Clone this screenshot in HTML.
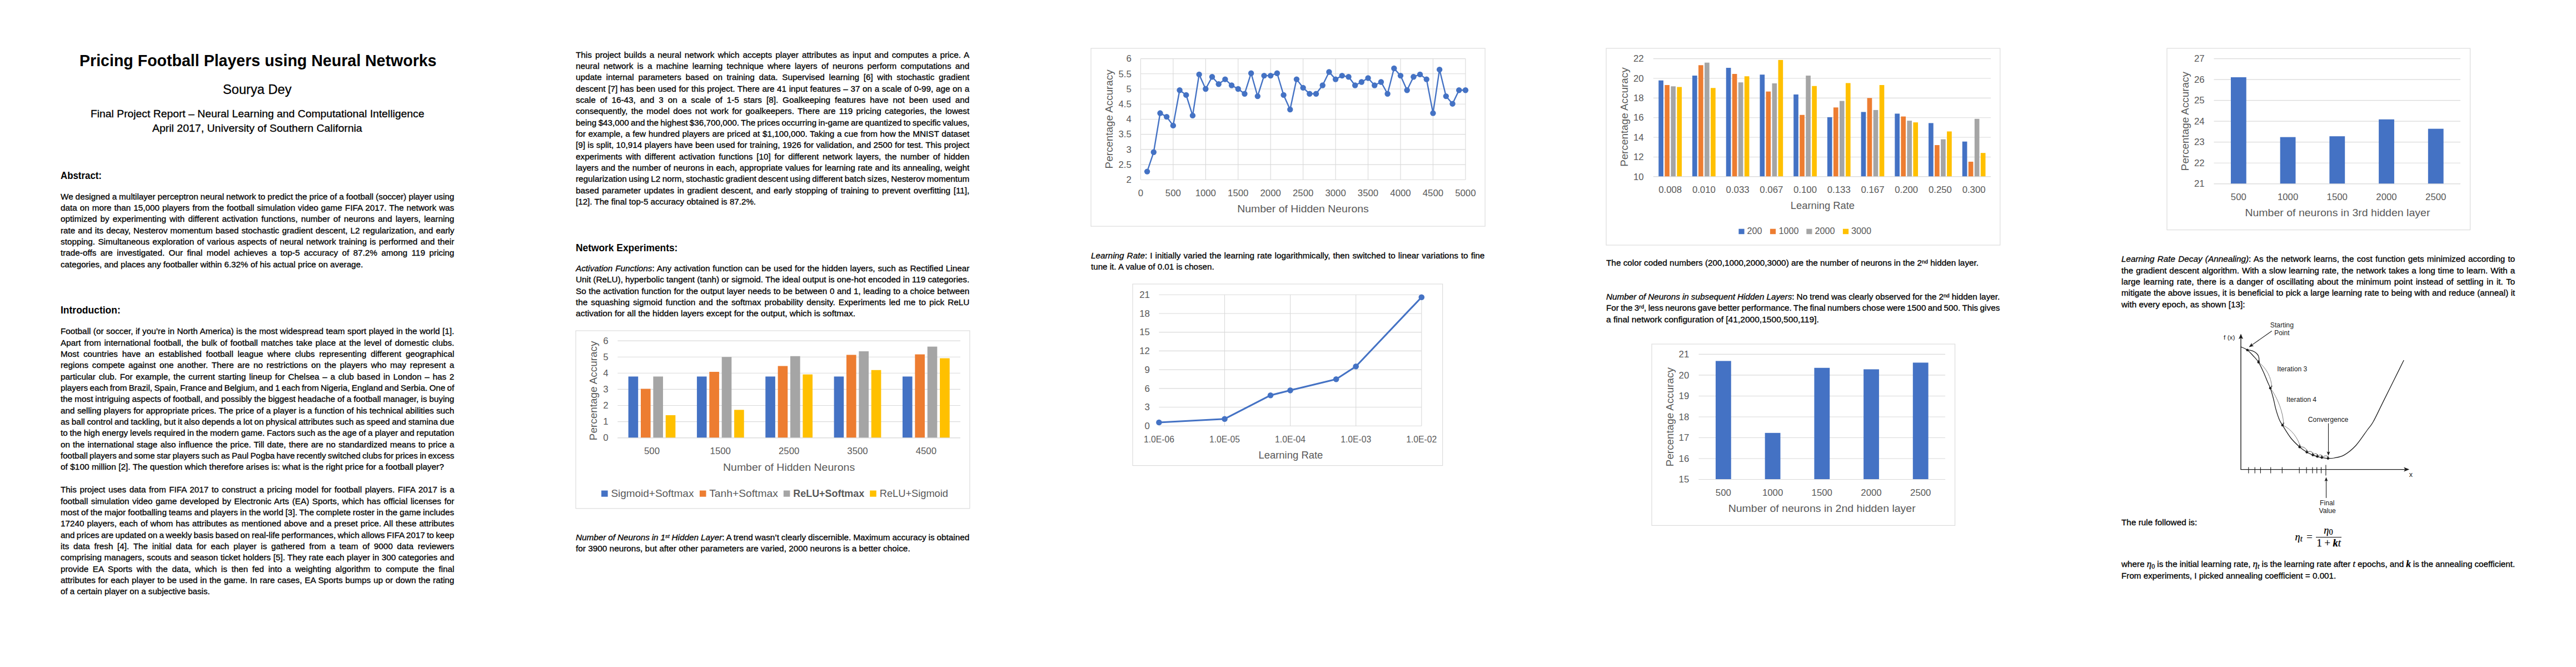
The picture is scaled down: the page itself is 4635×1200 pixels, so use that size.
<!DOCTYPE html>
<html lang="en"><head><meta charset="utf-8"><title>Pricing Football Players using Neural Networks</title>
<style>
html,body{margin:0;padding:0;background:#fff}
body{width:4635px;height:1200px;position:relative;overflow:hidden;font-family:"Liberation Sans",sans-serif;color:#000}
.l{position:absolute;white-space:nowrap;line-height:20px;transform-origin:0 0;font-kerning:normal;-webkit-text-stroke:0.3px #000}
.l b{font-weight:bold}
.l sup,.l sub{line-height:0;font-size:64%;vertical-align:baseline;position:relative}
.l sup{top:-0.46em}
.l sub{top:0.22em}
.m{font-family:"Liberation Serif","DejaVu Serif",serif;font-style:italic;line-height:0;font-size:112%}
sub.m{font-size:80%;font-style:normal;top:0.25em}
sub.m.mi{font-style:italic}
.mi{font-style:italic}
.mbi{font-style:italic;font-weight:bold}
.fx{position:absolute;white-space:nowrap;line-height:20px;-webkit-text-stroke:0.25px #000;font-family:"Liberation Serif","DejaVu Serif",serif;font-style:italic;font-size:18.5px}
</style></head>
<body>
<div class="l" id="L0" style="left:142.5px;top:99px;font-size:30px;font-weight:bold;-webkit-text-stroke:0;transform:scaleX(0.9516)">Pricing Football Players using Neural Networks</div>
<div class="l" id="L1" style="left:401px;top:151px;font-size:24.6px;transform:scaleX(0.9619)">Sourya Dey</div>
<div class="l" id="L2" style="left:163.2px;top:195px;font-size:19px;transform:scaleX(1.0169)">Final Project Report – Neural Learning and Computational Intelligence</div>
<div class="l" id="L3" style="left:274.4px;top:221px;font-size:19px;transform:scaleX(1.0247)">April 2017, University of Southern California</div>
<div class="l" id="L4" style="left:109.4px;top:306px;font-size:17.7px;font-weight:bold;-webkit-text-stroke:0;transform:scaleX(0.9529)">Abstract:</div>
<div class="l" id="L5" style="left:109.3px;top:344px;font-size:15px;transform:scaleX(1.0200);word-spacing:-0.3px">We designed a multilayer perceptron neural network to predict the price of a football (soccer) player using</div>
<div class="l" id="L6" style="left:109.3px;top:364px;font-size:15px;transform:scaleX(1.0200);word-spacing:0.68px">data on more than 15,000 players from the football simulation video game FIFA 2017. The network was</div>
<div class="l" id="L7" style="left:109.3px;top:384px;font-size:15px;transform:scaleX(1.0200);word-spacing:1.82px">optimized by experimenting with different activation functions, number of neurons and layers, learning</div>
<div class="l" id="L8" style="left:109.3px;top:405px;font-size:15px;transform:scaleX(1.0200);word-spacing:0.72px">rate and its decay, Nesterov momentum based stochastic gradient descent, L2 regularization, and early</div>
<div class="l" id="L9" style="left:109.3px;top:425px;font-size:15px;transform:scaleX(1.0200);word-spacing:1.01px">stopping. Simultaneous exploration of various aspects of neural network training is performed and their</div>
<div class="l" id="L10" style="left:109.3px;top:445px;font-size:15px;transform:scaleX(1.0200);word-spacing:3.07px">trade-offs are investigated. Our final model achieves a top-5 accuracy of 87.2% among 119 pricing</div>
<div class="l" id="L11" style="left:109.3px;top:466px;font-size:15px;transform:scaleX(1.0118)">categories, and places any footballer within 6.32% of his actual price on average.</div>
<div class="l" id="L12" style="left:109.4px;top:548px;font-size:17.7px;font-weight:bold;-webkit-text-stroke:0;transform:scaleX(0.9886)">Introduction:</div>
<div class="l" id="L13" style="left:109.3px;top:586px;font-size:15px;transform:scaleX(1.0200);word-spacing:0.18px">Football (or soccer, if you’re in North America) is the most widespread team sport played in the world [1].</div>
<div class="l" id="L14" style="left:109.3px;top:607px;font-size:15px;transform:scaleX(1.0200);word-spacing:1.35px">Apart from international football, the bulk of football matches take place at the level of domestic clubs.</div>
<div class="l" id="L15" style="left:109.3px;top:627px;font-size:15px;transform:scaleX(1.0200);word-spacing:3.42px">Most countries have an established football league where clubs representing different geographical</div>
<div class="l" id="L16" style="left:109.3px;top:647px;font-size:15px;transform:scaleX(1.0200);word-spacing:2.29px">regions compete against one another. There are no restrictions on the players who may represent a</div>
<div class="l" id="L17" style="left:109.3px;top:668px;font-size:15px;transform:scaleX(1.0200);word-spacing:1.43px">particular club. For example, the current starting lineup for Chelsea – a club based in London – has 2</div>
<div class="l" id="L18" style="left:109.3px;top:688px;font-size:15px;transform:scaleX(1.0166);word-spacing:-0.9px">players each from Brazil, Spain, France and Belgium, and 1 each from Nigeria, England and Serbia. One of</div>
<div class="l" id="L19" style="left:109.3px;top:708px;font-size:15px;transform:scaleX(1.0200);word-spacing:-0.27px">the most intriguing aspects of football, and possibly the biggest headache of a football manager, is buying</div>
<div class="l" id="L20" style="left:109.3px;top:729px;font-size:15px;transform:scaleX(1.0200);word-spacing:0.1px">and selling players for appropriate prices. The price of a player is a function of his technical abilities such</div>
<div class="l" id="L21" style="left:109.3px;top:749px;font-size:15px;transform:scaleX(1.0200);word-spacing:-0.54px">as ball control and tackling, but it also depends a lot on physical attributes such as speed and stamina due</div>
<div class="l" id="L22" style="left:109.3px;top:769px;font-size:15px;transform:scaleX(1.0200);word-spacing:-0.4px">to the high energy levels required in the modern game. Factors such as the age of a player and reputation</div>
<div class="l" id="L23" style="left:109.3px;top:790px;font-size:15px;transform:scaleX(1.0200);word-spacing:0.82px">on the international stage also influence the price. Till date, there are no standardized means to price a</div>
<div class="l" id="L24" style="left:109.3px;top:810px;font-size:15px;transform:scaleX(1.0081);word-spacing:-0.9px">football players and some star players such as Paul Pogba have recently switched clubs for prices in excess</div>
<div class="l" id="L25" style="left:109.3px;top:830px;font-size:15px;transform:scaleX(1.0321)">of $100 million [2]. The question which therefore arises is: what is the right price for a football player?</div>
<div class="l" id="L26" style="left:109.3px;top:871px;font-size:15px;transform:scaleX(1.0200);word-spacing:1.25px">This project uses data from FIFA 2017 to construct a pricing model for football players. FIFA 2017 is a</div>
<div class="l" id="L27" style="left:109.3px;top:892px;font-size:15px;transform:scaleX(1.0200);word-spacing:1.14px">football simulation video game developed by Electronic Arts (EA) Sports, which has official licenses for</div>
<div class="l" id="L28" style="left:109.3px;top:912px;font-size:15px;transform:scaleX(1.0200);word-spacing:-0.32px">most of the major footballing teams and players in the world [3]. The complete roster in the game includes</div>
<div class="l" id="L29" style="left:109.3px;top:932px;font-size:15px;transform:scaleX(1.0200);word-spacing:0.61px">17240 players, each of whom has attributes as mentioned above and a preset price. All these attributes</div>
<div class="l" id="L30" style="left:109.3px;top:953px;font-size:15px;transform:scaleX(1.0200);word-spacing:-0.89px">and prices are updated on a weekly basis based on real-life performances, which allows FIFA 2017 to keep</div>
<div class="l" id="L31" style="left:109.3px;top:973px;font-size:15px;transform:scaleX(1.0200);word-spacing:3.34px">its data fresh [4]. The initial data for each player is gathered from a team of 9000 data reviewers</div>
<div class="l" id="L32" style="left:109.3px;top:993px;font-size:15px;transform:scaleX(1.0200);word-spacing:0.23px">comprising managers, scouts and season ticket holders [5]. They rate each player in 300 categories and</div>
<div class="l" id="L33" style="left:109.3px;top:1014px;font-size:15px;transform:scaleX(1.0200);word-spacing:3.28px">provide EA Sports with the data, which is then fed into a weighting algorithm to compute the final</div>
<div class="l" id="L34" style="left:109.3px;top:1034px;font-size:15px;transform:scaleX(1.0200);word-spacing:0.41px">attributes for each player to be used in the game. In rare cases, EA Sports bumps up or down the rating</div>
<div class="l" id="L35" style="left:109.3px;top:1054px;font-size:15px;transform:scaleX(1.0070)">of a certain player on a subjective basis.</div>
<div class="l" id="L36" style="left:1036.3px;top:89px;font-size:15px;transform:scaleX(1.0200);word-spacing:1.71px">This project builds a neural network which accepts player attributes as input and computes a price. A</div>
<div class="l" id="L37" style="left:1036.3px;top:109px;font-size:15px;transform:scaleX(1.0200);word-spacing:2.94px">neural network is a machine learning technique where layers of neurons perform computations and</div>
<div class="l" id="L38" style="left:1036.3px;top:129px;font-size:15px;transform:scaleX(1.0200);word-spacing:3.39px">update internal parameters based on training data. Supervised learning [6] with stochastic gradient</div>
<div class="l" id="L39" style="left:1036.3px;top:150px;font-size:15px;transform:scaleX(1.0200);word-spacing:0.34px">descent [7] has been used for this project. There are 41 input features – 37 on a scale of 0-99, age on a</div>
<div class="l" id="L40" style="left:1036.3px;top:170px;font-size:15px;transform:scaleX(1.0200);word-spacing:3.65px">scale of 16-43, and 3 on a scale of 1-5 stars [8]. Goalkeeping features have not been used and</div>
<div class="l" id="L41" style="left:1036.3px;top:190px;font-size:15px;transform:scaleX(1.0200);word-spacing:2.07px">consequently, the model does not work for goalkeepers. There are 119 pricing categories, the lowest</div>
<div class="l" id="L42" style="left:1036.3px;top:211px;font-size:15px;transform:scaleX(1.0166);word-spacing:-0.9px">being $43,000 and the highest $36,700,000. The prices occurring in-game are quantized to specific values,</div>
<div class="l" id="L43" style="left:1036.3px;top:231px;font-size:15px;transform:scaleX(1.0200);word-spacing:0.37px">for example, a few hundred players are priced at $1,100,000. Taking a cue from how the MNIST dataset</div>
<div class="l" id="L44" style="left:1036.3px;top:251px;font-size:15px;transform:scaleX(1.0200);word-spacing:0.1px">[9] is split, 10,914 players have been used for training, 1926 for validation, and 2500 for test. This project</div>
<div class="l" id="L45" style="left:1036.3px;top:272px;font-size:15px;transform:scaleX(1.0200);word-spacing:2.47px">experiments with different activation functions [10] for different network layers, the number of hidden</div>
<div class="l" id="L46" style="left:1036.3px;top:292px;font-size:15px;transform:scaleX(1.0200);word-spacing:0.46px">layers and the number of neurons in each, appropriate values for learning rate and its annealing, weight</div>
<div class="l" id="L47" style="left:1036.3px;top:312px;font-size:15px;transform:scaleX(1.0200);word-spacing:-0.82px">regularization using L2 norm, stochastic gradient descent using different batch sizes, Nesterov momentum</div>
<div class="l" id="L48" style="left:1036.3px;top:333px;font-size:15px;transform:scaleX(1.0200);word-spacing:1.38px">based parameter updates in gradient descent, and early stopping of training to prevent overfitting [11],</div>
<div class="l" id="L49" style="left:1036.3px;top:353px;font-size:15px;transform:scaleX(1.0104)">[12]. The final top-5 accuracy obtained is 87.2%.</div>
<div class="l" id="L50" style="left:1036.4px;top:436px;font-size:17.7px;font-weight:bold;-webkit-text-stroke:0;transform:scaleX(0.9820)">Network Experiments:</div>
<div class="l" id="L51" style="left:1036.3px;top:473px;font-size:15px;transform:scaleX(1.0200);word-spacing:0.55px"><i>Activation Functions</i>: Any activation function can be used for the hidden layers, such as Rectified Linear</div>
<div class="l" id="L52" style="left:1036.3px;top:493px;font-size:15px;transform:scaleX(1.0200);word-spacing:-0.09px">Unit (ReLU), hyperbolic tangent (tanh) or sigmoid. The ideal output is one-hot encoded in 119 categories.</div>
<div class="l" id="L53" style="left:1036.3px;top:514px;font-size:15px;transform:scaleX(1.0200);word-spacing:0.29px">So the activation function for the output layer needs to be between 0 and 1, leading to a choice between</div>
<div class="l" id="L54" style="left:1036.3px;top:534px;font-size:15px;transform:scaleX(1.0200);word-spacing:1.68px">the squashing sigmoid function and the softmax probability density. Experiments led me to pick ReLU</div>
<div class="l" id="L55" style="left:1036.3px;top:554px;font-size:15px;transform:scaleX(1.0348)">activation for all the hidden layers except for the output, which is softmax.</div>
<div class="l" id="L56" style="left:1036.3px;top:957px;font-size:15px;transform:scaleX(1.0200);word-spacing:-0.34px"><i>Number of Neurons in 1<sup>st</sup> Hidden Layer</i>: A trend wasn’t clearly discernible. Maximum accuracy is obtained</div>
<div class="l" id="L57" style="left:1036.3px;top:977px;font-size:15px;transform:scaleX(1.0235)">for 3900 neurons, but after other parameters are varied, 2000 neurons is a better choice.</div>
<div class="l" id="L58" style="left:1963.3px;top:450px;font-size:15px;transform:scaleX(1.0200);word-spacing:0.79px"><i>Learning Rate</i>: I initially varied the learning rate logarithmically, then switched to linear variations to fine</div>
<div class="l" id="L59" style="left:1963.3px;top:470px;font-size:15px;transform:scaleX(1.0108)">tune it. A value of 0.01 is chosen.</div>
<div class="l" id="L60" style="left:2890.3px;top:463px;font-size:15px;transform:scaleX(1.0213)">The color coded numbers (200,1000,2000,3000) are the number of neurons in the 2<sup>nd</sup> hidden layer.</div>
<div class="l" id="L61" style="left:2890.3px;top:524px;font-size:15px;transform:scaleX(1.0200);word-spacing:-0.26px"><i>Number of Neurons in subsequent Hidden Layers</i>: No trend was clearly observed for the 2<sup>nd</sup> hidden layer.</div>
<div class="l" id="L62" style="left:2890.3px;top:544px;font-size:15px;transform:scaleX(1.0195);word-spacing:-0.9px">For the 3<sup>rd</sup>, less neurons gave better performance. The final numbers chose were 1500 and 500. This gives</div>
<div class="l" id="L63" style="left:2890.3px;top:565px;font-size:15px;transform:scaleX(1.0370)">a final network configuration of [41,2000,1500,500,119].</div>
<div class="l" id="L64" style="left:3817.3px;top:456px;font-size:15px;transform:scaleX(1.0200);word-spacing:0.94px"><i>Learning Rate Decay (Annealing)</i>: As the network learns, the cost function gets minimized according to</div>
<div class="l" id="L65" style="left:3817.3px;top:477px;font-size:15px;transform:scaleX(1.0200);word-spacing:0.64px">the gradient descent algorithm. With a slow learning rate, the network takes a long time to learn. With a</div>
<div class="l" id="L66" style="left:3817.3px;top:497px;font-size:15px;transform:scaleX(1.0200);word-spacing:1.4px">large learning rate, there is a danger of oscillating about the minimum point instead of settling in it. To</div>
<div class="l" id="L67" style="left:3817.3px;top:517px;font-size:15px;transform:scaleX(1.0200);word-spacing:0.17px">mitigate the above issues, it is beneficial to pick a large learning rate to being with and reduce (anneal) it</div>
<div class="l" id="L68" style="left:3817.3px;top:538px;font-size:15px;transform:scaleX(1.0229)">with every epoch, as shown [13]:</div>
<div class="l" id="L69" style="left:3817.3px;top:930px;font-size:15px;transform:scaleX(1.0217)">The rule followed is:</div>
<div class="l" id="L70" style="left:3817.3px;top:1005px;font-size:15px;transform:scaleX(1.0200);word-spacing:-0.24px">where <span class="m">η</span><sub class="m">0</sub> is the initial learning rate, <span class="m">η</span><sub class="m mi">t</sub> is the learning rate after <span class="m mi">t</span> epochs, and <span class="m mbi">k</span> is the annealing coefficient.</div>
<div class="l" id="L71" style="left:3817.3px;top:1026px;font-size:15px;transform:scaleX(1.0156)">From experiments, I picked annealing coefficient = 0.001.</div>
<div class="fx" style="left:4129.5px;top:956.2px">η<sub style="font-size:78%;line-height:0;position:relative;top:0.16em;vertical-align:baseline">t</sub></div>
<div class="fx" style="left:4150.2px;top:956.2px;font-style:normal">=</div>
<div class="fx" style="left:4181.3px;top:943.8px">η<sub style="font-size:78%;line-height:0;position:relative;top:0.16em;vertical-align:baseline;font-style:normal">0</sub></div>
<div style="position:absolute;left:4167.1px;top:966.3px;width:45.9px;height:1.1px;background:#000"></div>
<div class="fx" style="left:4168.5px;top:966.8px;font-style:normal">1 + <b><i>k</i></b><i>t</i></div>
<svg style="position:absolute;left:1034px;top:592.6px" width="712.9" height="323.8" viewBox="1034 592.6 712.9 323.8" font-family="Liberation Sans, sans-serif" fill="#595959">
<rect x="1036" y="594.6" width="708.9" height="319.8" fill="#fff" stroke="#D9D9D9" stroke-width="1.1"/>
<line x1="1111.3" y1="787.3" x2="1728" y2="787.3" stroke="#D9D9D9" stroke-width="1.1"/>
<text x="1094.6" y="793.1" font-size="16.8" text-anchor="end">0</text>
<line x1="1111.3" y1="758.2" x2="1728" y2="758.2" stroke="#D9D9D9" stroke-width="1.1"/>
<text x="1094.6" y="764" font-size="16.8" text-anchor="end">1</text>
<line x1="1111.3" y1="729.1" x2="1728" y2="729.1" stroke="#D9D9D9" stroke-width="1.1"/>
<text x="1094.6" y="734.9" font-size="16.8" text-anchor="end">2</text>
<line x1="1111.3" y1="700" x2="1728" y2="700" stroke="#D9D9D9" stroke-width="1.1"/>
<text x="1094.6" y="705.8" font-size="16.8" text-anchor="end">3</text>
<line x1="1111.3" y1="670.9" x2="1728" y2="670.9" stroke="#D9D9D9" stroke-width="1.1"/>
<text x="1094.6" y="676.7" font-size="16.8" text-anchor="end">4</text>
<line x1="1111.3" y1="641.8" x2="1728" y2="641.8" stroke="#D9D9D9" stroke-width="1.1"/>
<text x="1094.6" y="647.6" font-size="16.8" text-anchor="end">5</text>
<line x1="1111.3" y1="612.7" x2="1728" y2="612.7" stroke="#D9D9D9" stroke-width="1.1"/>
<text x="1094.6" y="618.5" font-size="16.8" text-anchor="end">6</text>
<rect x="1130.59" y="677.01" width="17.62" height="110.29" fill="#4472C4"/>
<rect x="1152.97" y="699.13" width="17.62" height="88.17" fill="#ED7D31"/>
<rect x="1175.35" y="677.01" width="17.62" height="110.29" fill="#A5A5A5"/>
<rect x="1197.73" y="746.56" width="17.62" height="40.74" fill="#FFC000"/>
<text x="1172.97" y="816.8" font-size="16.8" text-anchor="middle">500</text>
<rect x="1253.93" y="677.01" width="17.62" height="110.29" fill="#4472C4"/>
<rect x="1276.31" y="668.57" width="17.62" height="118.73" fill="#ED7D31"/>
<rect x="1298.69" y="641.8" width="17.62" height="145.5" fill="#A5A5A5"/>
<rect x="1321.07" y="736.96" width="17.62" height="50.34" fill="#FFC000"/>
<text x="1296.31" y="816.8" font-size="16.8" text-anchor="middle">1500</text>
<rect x="1377.27" y="677.01" width="17.62" height="110.29" fill="#4472C4"/>
<rect x="1399.65" y="658.1" width="17.62" height="129.2" fill="#ED7D31"/>
<rect x="1422.03" y="640.35" width="17.62" height="146.95" fill="#A5A5A5"/>
<rect x="1444.41" y="673.23" width="17.62" height="114.07" fill="#FFC000"/>
<text x="1419.65" y="816.8" font-size="16.8" text-anchor="middle">2500</text>
<rect x="1500.61" y="677.01" width="17.62" height="110.29" fill="#4472C4"/>
<rect x="1522.99" y="638.02" width="17.62" height="149.28" fill="#ED7D31"/>
<rect x="1545.37" y="631.62" width="17.62" height="155.68" fill="#A5A5A5"/>
<rect x="1567.75" y="665.37" width="17.62" height="121.93" fill="#FFC000"/>
<text x="1542.99" y="816.8" font-size="16.8" text-anchor="middle">3500</text>
<rect x="1623.95" y="677.01" width="17.62" height="110.29" fill="#4472C4"/>
<rect x="1646.33" y="637.14" width="17.62" height="150.16" fill="#ED7D31"/>
<rect x="1668.71" y="623.18" width="17.62" height="164.12" fill="#A5A5A5"/>
<rect x="1691.09" y="644.13" width="17.62" height="143.17" fill="#FFC000"/>
<text x="1666.33" y="816.8" font-size="16.8" text-anchor="middle">4500</text>
<line x1="1111.3" y1="787.3" x2="1728" y2="787.3" stroke="#D9D9D9" stroke-width="1.1"/>
<text x="1419.6" y="846.3" font-size="18.4" text-anchor="middle" textLength="237.2" lengthAdjust="spacingAndGlyphs">Number of Hidden Neurons</text>
<text transform="translate(1067.7 702.5) rotate(-90)" x="0" y="6.53" font-size="18.4" text-anchor="middle" textLength="178.5" lengthAdjust="spacingAndGlyphs">Percentage Accuracy</text>
<rect x="1082" y="882.1" width="11.6" height="11.2" fill="#4472C4"/>
<text x="1099.4" y="893.7" font-size="18" textLength="149" lengthAdjust="spacingAndGlyphs">Sigmoid+Softmax</text>
<rect x="1258.9" y="882.1" width="11.6" height="11.2" fill="#ED7D31"/>
<text x="1276.2" y="893.7" font-size="18" textLength="123.6" lengthAdjust="spacingAndGlyphs">Tanh+Softmax</text>
<rect x="1409.8" y="882.1" width="11.6" height="11.2" fill="#A5A5A5"/>
<text x="1427.3" y="893.7" font-size="18" textLength="127.9" lengthAdjust="spacingAndGlyphs" font-weight="bold">ReLU+Softmax</text>
<rect x="1565.2" y="882.1" width="11.6" height="11.2" fill="#FFC000"/>
<text x="1582.8" y="893.7" font-size="18" textLength="123.2" lengthAdjust="spacingAndGlyphs">ReLU+Sigmoid</text>
</svg>
<svg style="position:absolute;left:1960.9px;top:85.4px" width="713.1" height="324.1" viewBox="1960.9 85.4 713.1 324.1" font-family="Liberation Sans, sans-serif" fill="#595959">
<rect x="1962.9" y="87.4" width="709.1" height="320.1" fill="#fff" stroke="#D9D9D9" stroke-width="1.1"/>
<line x1="2052.3" y1="323.7" x2="2636.8" y2="323.7" stroke="#D9D9D9" stroke-width="1.1"/>
<text x="2035.7" y="329.5" font-size="16.8" text-anchor="end">2</text>
<line x1="2052.3" y1="296.49" x2="2636.8" y2="296.49" stroke="#D9D9D9" stroke-width="1.1"/>
<text x="2035.7" y="302.28" font-size="16.8" text-anchor="end">2.5</text>
<line x1="2052.3" y1="269.27" x2="2636.8" y2="269.27" stroke="#D9D9D9" stroke-width="1.1"/>
<text x="2035.7" y="275.07" font-size="16.8" text-anchor="end">3</text>
<line x1="2052.3" y1="242.06" x2="2636.8" y2="242.06" stroke="#D9D9D9" stroke-width="1.1"/>
<text x="2035.7" y="247.86" font-size="16.8" text-anchor="end">3.5</text>
<line x1="2052.3" y1="214.85" x2="2636.8" y2="214.85" stroke="#D9D9D9" stroke-width="1.1"/>
<text x="2035.7" y="220.65" font-size="16.8" text-anchor="end">4</text>
<line x1="2052.3" y1="187.64" x2="2636.8" y2="187.64" stroke="#D9D9D9" stroke-width="1.1"/>
<text x="2035.7" y="193.43" font-size="16.8" text-anchor="end">4.5</text>
<line x1="2052.3" y1="160.43" x2="2636.8" y2="160.43" stroke="#D9D9D9" stroke-width="1.1"/>
<text x="2035.7" y="166.22" font-size="16.8" text-anchor="end">5</text>
<line x1="2052.3" y1="133.21" x2="2636.8" y2="133.21" stroke="#D9D9D9" stroke-width="1.1"/>
<text x="2035.7" y="139.01" font-size="16.8" text-anchor="end">5.5</text>
<line x1="2052.3" y1="106" x2="2636.8" y2="106" stroke="#D9D9D9" stroke-width="1.1"/>
<text x="2035.7" y="111.8" font-size="16.8" text-anchor="end">6</text>
<line x1="2052.3" y1="106" x2="2052.3" y2="323.7" stroke="#D9D9D9" stroke-width="1.1"/>
<text x="2052.3" y="353.4" font-size="16.8" text-anchor="middle">0</text>
<line x1="2110.75" y1="106" x2="2110.75" y2="323.7" stroke="#D9D9D9" stroke-width="1.1"/>
<text x="2110.75" y="353.4" font-size="16.8" text-anchor="middle">500</text>
<line x1="2169.2" y1="106" x2="2169.2" y2="323.7" stroke="#D9D9D9" stroke-width="1.1"/>
<text x="2169.2" y="353.4" font-size="16.8" text-anchor="middle">1000</text>
<line x1="2227.65" y1="106" x2="2227.65" y2="323.7" stroke="#D9D9D9" stroke-width="1.1"/>
<text x="2227.65" y="353.4" font-size="16.8" text-anchor="middle">1500</text>
<line x1="2286.1" y1="106" x2="2286.1" y2="323.7" stroke="#D9D9D9" stroke-width="1.1"/>
<text x="2286.1" y="353.4" font-size="16.8" text-anchor="middle">2000</text>
<line x1="2344.55" y1="106" x2="2344.55" y2="323.7" stroke="#D9D9D9" stroke-width="1.1"/>
<text x="2344.55" y="353.4" font-size="16.8" text-anchor="middle">2500</text>
<line x1="2403" y1="106" x2="2403" y2="323.7" stroke="#D9D9D9" stroke-width="1.1"/>
<text x="2403" y="353.4" font-size="16.8" text-anchor="middle">3000</text>
<line x1="2461.45" y1="106" x2="2461.45" y2="323.7" stroke="#D9D9D9" stroke-width="1.1"/>
<text x="2461.45" y="353.4" font-size="16.8" text-anchor="middle">3500</text>
<line x1="2519.9" y1="106" x2="2519.9" y2="323.7" stroke="#D9D9D9" stroke-width="1.1"/>
<text x="2519.9" y="353.4" font-size="16.8" text-anchor="middle">4000</text>
<line x1="2578.35" y1="106" x2="2578.35" y2="323.7" stroke="#D9D9D9" stroke-width="1.1"/>
<text x="2578.35" y="353.4" font-size="16.8" text-anchor="middle">4500</text>
<line x1="2636.8" y1="106" x2="2636.8" y2="323.7" stroke="#D9D9D9" stroke-width="1.1"/>
<text x="2636.8" y="353.4" font-size="16.8" text-anchor="middle">5000</text>
<path d="M2063.99 309.01 L2075.68 274.17 L2087.37 203.96 L2099.06 210.5 L2110.75 226.28 L2122.44 162.6 L2134.13 171.31 L2145.82 208.32 L2157.51 134.3 L2169.2 160.43 L2180.89 138.65 L2192.58 151.72 L2204.27 143.01 L2215.96 153.89 L2227.65 160.43 L2239.34 169.13 L2251.03 132.12 L2262.72 173.49 L2274.41 136.48 L2286.1 136.48 L2297.79 132.12 L2309.48 171.31 L2321.17 197.43 L2332.86 143.01 L2344.55 158.25 L2356.24 169.13 L2367.93 169.13 L2379.62 153.89 L2391.31 129.95 L2403 143.01 L2414.69 136.48 L2426.38 138.65 L2438.07 153.89 L2449.76 147.91 L2461.45 140.83 L2473.14 153.89 L2484.83 147.91 L2496.52 169.13 L2508.21 123.42 L2519.9 136.48 L2531.59 162.6 L2543.28 138.65 L2554.97 134.3 L2566.66 143.01 L2578.35 203.96 L2590.04 125.59 L2601.73 173.49 L2613.42 187.09 L2625.11 162.6 L2636.8 162.6" fill="none" stroke="#4472C4" stroke-width="2.4" stroke-linejoin="round" stroke-linecap="round"/>
<circle cx="2063.99" cy="309.01" r="5.2" fill="#4472C4"/>
<circle cx="2075.68" cy="274.17" r="5.2" fill="#4472C4"/>
<circle cx="2087.37" cy="203.96" r="5.2" fill="#4472C4"/>
<circle cx="2099.06" cy="210.5" r="5.2" fill="#4472C4"/>
<circle cx="2110.75" cy="226.28" r="5.2" fill="#4472C4"/>
<circle cx="2122.44" cy="162.6" r="5.2" fill="#4472C4"/>
<circle cx="2134.13" cy="171.31" r="5.2" fill="#4472C4"/>
<circle cx="2145.82" cy="208.32" r="5.2" fill="#4472C4"/>
<circle cx="2157.51" cy="134.3" r="5.2" fill="#4472C4"/>
<circle cx="2169.2" cy="160.43" r="5.2" fill="#4472C4"/>
<circle cx="2180.89" cy="138.65" r="5.2" fill="#4472C4"/>
<circle cx="2192.58" cy="151.72" r="5.2" fill="#4472C4"/>
<circle cx="2204.27" cy="143.01" r="5.2" fill="#4472C4"/>
<circle cx="2215.96" cy="153.89" r="5.2" fill="#4472C4"/>
<circle cx="2227.65" cy="160.43" r="5.2" fill="#4472C4"/>
<circle cx="2239.34" cy="169.13" r="5.2" fill="#4472C4"/>
<circle cx="2251.03" cy="132.12" r="5.2" fill="#4472C4"/>
<circle cx="2262.72" cy="173.49" r="5.2" fill="#4472C4"/>
<circle cx="2274.41" cy="136.48" r="5.2" fill="#4472C4"/>
<circle cx="2286.1" cy="136.48" r="5.2" fill="#4472C4"/>
<circle cx="2297.79" cy="132.12" r="5.2" fill="#4472C4"/>
<circle cx="2309.48" cy="171.31" r="5.2" fill="#4472C4"/>
<circle cx="2321.17" cy="197.43" r="5.2" fill="#4472C4"/>
<circle cx="2332.86" cy="143.01" r="5.2" fill="#4472C4"/>
<circle cx="2344.55" cy="158.25" r="5.2" fill="#4472C4"/>
<circle cx="2356.24" cy="169.13" r="5.2" fill="#4472C4"/>
<circle cx="2367.93" cy="169.13" r="5.2" fill="#4472C4"/>
<circle cx="2379.62" cy="153.89" r="5.2" fill="#4472C4"/>
<circle cx="2391.31" cy="129.95" r="5.2" fill="#4472C4"/>
<circle cx="2403" cy="143.01" r="5.2" fill="#4472C4"/>
<circle cx="2414.69" cy="136.48" r="5.2" fill="#4472C4"/>
<circle cx="2426.38" cy="138.65" r="5.2" fill="#4472C4"/>
<circle cx="2438.07" cy="153.89" r="5.2" fill="#4472C4"/>
<circle cx="2449.76" cy="147.91" r="5.2" fill="#4472C4"/>
<circle cx="2461.45" cy="140.83" r="5.2" fill="#4472C4"/>
<circle cx="2473.14" cy="153.89" r="5.2" fill="#4472C4"/>
<circle cx="2484.83" cy="147.91" r="5.2" fill="#4472C4"/>
<circle cx="2496.52" cy="169.13" r="5.2" fill="#4472C4"/>
<circle cx="2508.21" cy="123.42" r="5.2" fill="#4472C4"/>
<circle cx="2519.9" cy="136.48" r="5.2" fill="#4472C4"/>
<circle cx="2531.59" cy="162.6" r="5.2" fill="#4472C4"/>
<circle cx="2543.28" cy="138.65" r="5.2" fill="#4472C4"/>
<circle cx="2554.97" cy="134.3" r="5.2" fill="#4472C4"/>
<circle cx="2566.66" cy="143.01" r="5.2" fill="#4472C4"/>
<circle cx="2578.35" cy="203.96" r="5.2" fill="#4472C4"/>
<circle cx="2590.04" cy="125.59" r="5.2" fill="#4472C4"/>
<circle cx="2601.73" cy="173.49" r="5.2" fill="#4472C4"/>
<circle cx="2613.42" cy="187.09" r="5.2" fill="#4472C4"/>
<circle cx="2625.11" cy="162.6" r="5.2" fill="#4472C4"/>
<circle cx="2636.8" cy="162.6" r="5.2" fill="#4472C4"/>
<text x="2344.4" y="382.9" font-size="18.4" text-anchor="middle" textLength="236.5" lengthAdjust="spacingAndGlyphs">Number of Hidden Neurons</text>
<text transform="translate(1995.6 214.8) rotate(-90)" x="0" y="6.53" font-size="18.4" text-anchor="middle" textLength="178" lengthAdjust="spacingAndGlyphs">Percentage Accuracy</text>
</svg>
<svg style="position:absolute;left:2035.6px;top:508.6px" width="561.7" height="330.6" viewBox="2035.6 508.6 561.7 330.6" font-family="Liberation Sans, sans-serif" fill="#595959">
<rect x="2037.6" y="510.6" width="557.7" height="326.6" fill="#fff" stroke="#D9D9D9" stroke-width="1.1"/>
<line x1="2085" y1="765.9" x2="2557.4" y2="765.9" stroke="#D9D9D9" stroke-width="1.1"/>
<text x="2068.5" y="771.7" font-size="16.8" text-anchor="end">0</text>
<line x1="2085" y1="732.17" x2="2557.4" y2="732.17" stroke="#D9D9D9" stroke-width="1.1"/>
<text x="2068.5" y="737.97" font-size="16.8" text-anchor="end">3</text>
<line x1="2085" y1="698.44" x2="2557.4" y2="698.44" stroke="#D9D9D9" stroke-width="1.1"/>
<text x="2068.5" y="704.24" font-size="16.8" text-anchor="end">6</text>
<line x1="2085" y1="664.71" x2="2557.4" y2="664.71" stroke="#D9D9D9" stroke-width="1.1"/>
<text x="2068.5" y="670.51" font-size="16.8" text-anchor="end">9</text>
<line x1="2085" y1="630.99" x2="2557.4" y2="630.99" stroke="#D9D9D9" stroke-width="1.1"/>
<text x="2068.5" y="636.78" font-size="16.8" text-anchor="end">12</text>
<line x1="2085" y1="597.26" x2="2557.4" y2="597.26" stroke="#D9D9D9" stroke-width="1.1"/>
<text x="2068.5" y="603.05" font-size="16.8" text-anchor="end">15</text>
<line x1="2085" y1="563.53" x2="2557.4" y2="563.53" stroke="#D9D9D9" stroke-width="1.1"/>
<text x="2068.5" y="569.32" font-size="16.8" text-anchor="end">18</text>
<line x1="2085" y1="529.8" x2="2557.4" y2="529.8" stroke="#D9D9D9" stroke-width="1.1"/>
<text x="2068.5" y="535.6" font-size="16.8" text-anchor="end">21</text>
<text x="2085" y="795.8" font-size="16.8" text-anchor="middle" textLength="55" lengthAdjust="spacingAndGlyphs">1.0E-06</text>
<line x1="2203.1" y1="529.8" x2="2203.1" y2="765.9" stroke="#D9D9D9" stroke-width="1.1"/>
<text x="2203.1" y="795.8" font-size="16.8" text-anchor="middle" textLength="55" lengthAdjust="spacingAndGlyphs">1.0E-05</text>
<line x1="2321.2" y1="529.8" x2="2321.2" y2="765.9" stroke="#D9D9D9" stroke-width="1.1"/>
<text x="2321.2" y="795.8" font-size="16.8" text-anchor="middle" textLength="55" lengthAdjust="spacingAndGlyphs">1.0E-04</text>
<line x1="2439.3" y1="529.8" x2="2439.3" y2="765.9" stroke="#D9D9D9" stroke-width="1.1"/>
<text x="2439.3" y="795.8" font-size="16.8" text-anchor="middle" textLength="55" lengthAdjust="spacingAndGlyphs">1.0E-03</text>
<line x1="2557.4" y1="529.8" x2="2557.4" y2="765.9" stroke="#D9D9D9" stroke-width="1.1"/>
<text x="2557.4" y="795.8" font-size="16.8" text-anchor="middle" textLength="55" lengthAdjust="spacingAndGlyphs">1.0E-02</text>
<path d="M2085 759.6 L2203.1 753.31 L2285.65 710.81 L2321.2 701.93 L2403.75 681.92 L2439.3 658.87 L2557.4 534.3" fill="none" stroke="#4472C4" stroke-width="3.1" stroke-linejoin="round" stroke-linecap="round"/>
<circle cx="2085" cy="759.6" r="5.3" fill="#4472C4"/>
<circle cx="2203.1" cy="753.31" r="5.3" fill="#4472C4"/>
<circle cx="2285.65" cy="710.81" r="5.3" fill="#4472C4"/>
<circle cx="2321.2" cy="701.93" r="5.3" fill="#4472C4"/>
<circle cx="2403.75" cy="681.92" r="5.3" fill="#4472C4"/>
<circle cx="2439.3" cy="658.87" r="5.3" fill="#4472C4"/>
<circle cx="2557.4" cy="534.3" r="5.3" fill="#4472C4"/>
<text x="2322" y="824.5" font-size="18.4" text-anchor="middle" textLength="116" lengthAdjust="spacingAndGlyphs">Learning Rate</text>
</svg>
<svg style="position:absolute;left:2887.9px;top:85.4px" width="712.8" height="358" viewBox="2887.9 85.4 712.8 358" font-family="Liberation Sans, sans-serif" fill="#595959">
<rect x="2889.9" y="87.4" width="708.8" height="354" fill="#fff" stroke="#D9D9D9" stroke-width="1.1"/>
<line x1="2974.7" y1="318.2" x2="3581.9" y2="318.2" stroke="#D9D9D9" stroke-width="1.1"/>
<text x="2957.5" y="324" font-size="16.8" text-anchor="end">10</text>
<line x1="2974.7" y1="282.83" x2="3581.9" y2="282.83" stroke="#D9D9D9" stroke-width="1.1"/>
<text x="2957.5" y="288.63" font-size="16.8" text-anchor="end">12</text>
<line x1="2974.7" y1="247.47" x2="3581.9" y2="247.47" stroke="#D9D9D9" stroke-width="1.1"/>
<text x="2957.5" y="253.26" font-size="16.8" text-anchor="end">14</text>
<line x1="2974.7" y1="212.1" x2="3581.9" y2="212.1" stroke="#D9D9D9" stroke-width="1.1"/>
<text x="2957.5" y="217.9" font-size="16.8" text-anchor="end">16</text>
<line x1="2974.7" y1="176.73" x2="3581.9" y2="176.73" stroke="#D9D9D9" stroke-width="1.1"/>
<text x="2957.5" y="182.53" font-size="16.8" text-anchor="end">18</text>
<line x1="2974.7" y1="141.37" x2="3581.9" y2="141.37" stroke="#D9D9D9" stroke-width="1.1"/>
<text x="2957.5" y="147.16" font-size="16.8" text-anchor="end">20</text>
<line x1="2974.7" y1="106" x2="3581.9" y2="106" stroke="#D9D9D9" stroke-width="1.1"/>
<text x="2957.5" y="111.8" font-size="16.8" text-anchor="end">22</text>
<rect x="2984.2" y="145.08" width="8.67" height="173.12" fill="#4472C4"/>
<rect x="2995.21" y="153.39" width="8.67" height="164.81" fill="#ED7D31"/>
<rect x="3006.23" y="155.69" width="8.67" height="162.51" fill="#A5A5A5"/>
<rect x="3017.25" y="156.93" width="8.67" height="161.27" fill="#FFC000"/>
<text x="3005.06" y="347.6" font-size="16.8" text-anchor="middle">0.008</text>
<rect x="3044.92" y="136.42" width="8.67" height="181.78" fill="#4472C4"/>
<rect x="3055.93" y="117.67" width="8.67" height="200.53" fill="#ED7D31"/>
<rect x="3066.95" y="113.07" width="8.67" height="205.13" fill="#A5A5A5"/>
<rect x="3077.97" y="158.7" width="8.67" height="159.5" fill="#FFC000"/>
<text x="3065.78" y="347.6" font-size="16.8" text-anchor="middle">0.010</text>
<rect x="3105.64" y="122.45" width="8.67" height="195.75" fill="#4472C4"/>
<rect x="3116.65" y="133.41" width="8.67" height="184.79" fill="#ED7D31"/>
<rect x="3127.67" y="148.62" width="8.67" height="169.58" fill="#A5A5A5"/>
<rect x="3138.69" y="137.65" width="8.67" height="180.55" fill="#FFC000"/>
<text x="3126.5" y="347.6" font-size="16.8" text-anchor="middle">0.033</text>
<rect x="3166.36" y="134.65" width="8.67" height="183.55" fill="#4472C4"/>
<rect x="3177.37" y="165.06" width="8.67" height="153.14" fill="#ED7D31"/>
<rect x="3188.39" y="150.39" width="8.67" height="167.81" fill="#A5A5A5"/>
<rect x="3199.41" y="108.3" width="8.67" height="209.9" fill="#FFC000"/>
<text x="3187.22" y="347.6" font-size="16.8" text-anchor="middle">0.067</text>
<rect x="3227.08" y="170.37" width="8.67" height="147.83" fill="#4472C4"/>
<rect x="3238.09" y="207.15" width="8.67" height="111.05" fill="#ED7D31"/>
<rect x="3249.11" y="136.42" width="8.67" height="181.78" fill="#A5A5A5"/>
<rect x="3260.13" y="155.16" width="8.67" height="163.04" fill="#FFC000"/>
<text x="3247.94" y="347.6" font-size="16.8" text-anchor="middle">0.100</text>
<rect x="3287.8" y="211.22" width="8.67" height="106.98" fill="#4472C4"/>
<rect x="3298.81" y="193.71" width="8.67" height="124.49" fill="#ED7D31"/>
<rect x="3309.83" y="182.04" width="8.67" height="136.16" fill="#A5A5A5"/>
<rect x="3320.85" y="149.85" width="8.67" height="168.35" fill="#FFC000"/>
<text x="3308.66" y="347.6" font-size="16.8" text-anchor="middle">0.133</text>
<rect x="3348.52" y="201.84" width="8.67" height="116.36" fill="#4472C4"/>
<rect x="3359.53" y="176.73" width="8.67" height="141.47" fill="#ED7D31"/>
<rect x="3370.55" y="198.31" width="8.67" height="119.89" fill="#A5A5A5"/>
<rect x="3381.57" y="153.39" width="8.67" height="164.81" fill="#FFC000"/>
<text x="3369.38" y="347.6" font-size="16.8" text-anchor="middle">0.167</text>
<rect x="3409.24" y="204.85" width="8.67" height="113.35" fill="#4472C4"/>
<rect x="3420.25" y="209.98" width="8.67" height="108.22" fill="#ED7D31"/>
<rect x="3431.27" y="217.58" width="8.67" height="100.62" fill="#A5A5A5"/>
<rect x="3442.29" y="220.59" width="8.67" height="97.61" fill="#FFC000"/>
<text x="3430.1" y="347.6" font-size="16.8" text-anchor="middle">0.200</text>
<rect x="3469.96" y="221.83" width="8.67" height="96.37" fill="#4472C4"/>
<rect x="3480.97" y="261.44" width="8.67" height="56.76" fill="#ED7D31"/>
<rect x="3491.99" y="251" width="8.67" height="67.2" fill="#A5A5A5"/>
<rect x="3503.01" y="236.86" width="8.67" height="81.34" fill="#FFC000"/>
<text x="3490.82" y="347.6" font-size="16.8" text-anchor="middle">0.250</text>
<rect x="3530.68" y="255.07" width="8.67" height="63.13" fill="#4472C4"/>
<rect x="3541.69" y="291.32" width="8.67" height="26.88" fill="#ED7D31"/>
<rect x="3552.71" y="214.22" width="8.67" height="103.98" fill="#A5A5A5"/>
<rect x="3563.73" y="275.58" width="8.67" height="42.62" fill="#FFC000"/>
<text x="3551.54" y="347.6" font-size="16.8" text-anchor="middle">0.300</text>
<line x1="2974.7" y1="318.2" x2="3581.9" y2="318.2" stroke="#D9D9D9" stroke-width="1.1"/>
<text x="3279.3" y="376.7" font-size="18.4" text-anchor="middle" textLength="115.2" lengthAdjust="spacingAndGlyphs">Learning Rate</text>
<text transform="translate(2922.2 211) rotate(-90)" x="0" y="6.53" font-size="18.4" text-anchor="middle" textLength="178.5" lengthAdjust="spacingAndGlyphs">Percentage Accuracy</text>
<rect x="3128.3" y="412.1" width="10.2" height="9.5" fill="#4472C4"/>
<text x="3143.5" y="421.9" font-size="16.8" textLength="27" lengthAdjust="spacingAndGlyphs">200</text>
<rect x="3184.8" y="412.1" width="10.2" height="9.5" fill="#ED7D31"/>
<text x="3200.4" y="421.9" font-size="16.8" textLength="35.9" lengthAdjust="spacingAndGlyphs">1000</text>
<rect x="3250.2" y="412.1" width="10.2" height="9.5" fill="#A5A5A5"/>
<text x="3265.3" y="421.9" font-size="16.8" textLength="36.1" lengthAdjust="spacingAndGlyphs">2000</text>
<rect x="3315.8" y="412.1" width="10.2" height="9.5" fill="#FFC000"/>
<text x="3330.8" y="421.9" font-size="16.8" textLength="36.3" lengthAdjust="spacingAndGlyphs">3000</text>
</svg>
<svg style="position:absolute;left:2969.8px;top:616.6px" width="549.6" height="330.4" viewBox="2969.8 616.6 549.6 330.4" font-family="Liberation Sans, sans-serif" fill="#595959">
<rect x="2971.8" y="618.6" width="545.6" height="326.4" fill="#fff" stroke="#D9D9D9" stroke-width="1.1"/>
<line x1="3056.3" y1="862.1" x2="3499.9" y2="862.1" stroke="#D9D9D9" stroke-width="1.1"/>
<text x="3039.1" y="867.9" font-size="16.8" text-anchor="end">15</text>
<line x1="3056.3" y1="824.58" x2="3499.9" y2="824.58" stroke="#D9D9D9" stroke-width="1.1"/>
<text x="3039.1" y="830.38" font-size="16.8" text-anchor="end">16</text>
<line x1="3056.3" y1="787.07" x2="3499.9" y2="787.07" stroke="#D9D9D9" stroke-width="1.1"/>
<text x="3039.1" y="792.86" font-size="16.8" text-anchor="end">17</text>
<line x1="3056.3" y1="749.55" x2="3499.9" y2="749.55" stroke="#D9D9D9" stroke-width="1.1"/>
<text x="3039.1" y="755.35" font-size="16.8" text-anchor="end">18</text>
<line x1="3056.3" y1="712.03" x2="3499.9" y2="712.03" stroke="#D9D9D9" stroke-width="1.1"/>
<text x="3039.1" y="717.83" font-size="16.8" text-anchor="end">19</text>
<line x1="3056.3" y1="674.52" x2="3499.9" y2="674.52" stroke="#D9D9D9" stroke-width="1.1"/>
<text x="3039.1" y="680.31" font-size="16.8" text-anchor="end">20</text>
<line x1="3056.3" y1="637" x2="3499.9" y2="637" stroke="#D9D9D9" stroke-width="1.1"/>
<text x="3039.1" y="642.8" font-size="16.8" text-anchor="end">21</text>
<rect x="3086.75" y="649.01" width="27.81" height="213.09" fill="#4472C4"/>
<text x="3100.66" y="891.7" font-size="16.8" text-anchor="middle">500</text>
<rect x="3175.47" y="778.44" width="27.81" height="83.66" fill="#4472C4"/>
<text x="3189.38" y="891.7" font-size="16.8" text-anchor="middle">1000</text>
<rect x="3264.19" y="661.39" width="27.81" height="200.71" fill="#4472C4"/>
<text x="3278.1" y="891.7" font-size="16.8" text-anchor="middle">1500</text>
<rect x="3352.91" y="664.01" width="27.81" height="198.09" fill="#4472C4"/>
<text x="3366.82" y="891.7" font-size="16.8" text-anchor="middle">2000</text>
<rect x="3441.63" y="652.01" width="27.81" height="210.09" fill="#4472C4"/>
<text x="3455.54" y="891.7" font-size="16.8" text-anchor="middle">2500</text>
<line x1="3056.3" y1="862.1" x2="3499.9" y2="862.1" stroke="#D9D9D9" stroke-width="1.1"/>
<text x="3278" y="920.6" font-size="18.4" text-anchor="middle" textLength="337" lengthAdjust="spacingAndGlyphs">Number of neurons in 2nd hidden layer</text>
<text transform="translate(3004.6 749.8) rotate(-90)" x="0" y="6.53" font-size="18.4" text-anchor="middle" textLength="178" lengthAdjust="spacingAndGlyphs">Percentage Accuracy</text>
</svg>
<svg style="position:absolute;left:3896.8px;top:85.4px" width="549.6" height="330.6" viewBox="3896.8 85.4 549.6 330.6" font-family="Liberation Sans, sans-serif" fill="#595959">
<rect x="3898.8" y="87.4" width="545.6" height="326.6" fill="#fff" stroke="#D9D9D9" stroke-width="1.1"/>
<line x1="3983.3" y1="331.1" x2="4426.9" y2="331.1" stroke="#D9D9D9" stroke-width="1.1"/>
<text x="3966.5" y="336.9" font-size="16.8" text-anchor="end">21</text>
<line x1="3983.3" y1="293.58" x2="4426.9" y2="293.58" stroke="#D9D9D9" stroke-width="1.1"/>
<text x="3966.5" y="299.38" font-size="16.8" text-anchor="end">22</text>
<line x1="3983.3" y1="256.07" x2="4426.9" y2="256.07" stroke="#D9D9D9" stroke-width="1.1"/>
<text x="3966.5" y="261.86" font-size="16.8" text-anchor="end">23</text>
<line x1="3983.3" y1="218.55" x2="4426.9" y2="218.55" stroke="#D9D9D9" stroke-width="1.1"/>
<text x="3966.5" y="224.35" font-size="16.8" text-anchor="end">24</text>
<line x1="3983.3" y1="181.03" x2="4426.9" y2="181.03" stroke="#D9D9D9" stroke-width="1.1"/>
<text x="3966.5" y="186.83" font-size="16.8" text-anchor="end">25</text>
<line x1="3983.3" y1="143.52" x2="4426.9" y2="143.52" stroke="#D9D9D9" stroke-width="1.1"/>
<text x="3966.5" y="149.31" font-size="16.8" text-anchor="end">26</text>
<line x1="3983.3" y1="106" x2="4426.9" y2="106" stroke="#D9D9D9" stroke-width="1.1"/>
<text x="3966.5" y="111.8" font-size="16.8" text-anchor="end">27</text>
<rect x="4013.75" y="139.39" width="27.81" height="191.71" fill="#4472C4"/>
<text x="4027.66" y="360.7" font-size="16.8" text-anchor="middle">500</text>
<rect x="4102.47" y="247.06" width="27.81" height="84.04" fill="#4472C4"/>
<text x="4116.38" y="360.7" font-size="16.8" text-anchor="middle">1000</text>
<rect x="4191.19" y="245.56" width="27.81" height="85.54" fill="#4472C4"/>
<text x="4205.1" y="360.7" font-size="16.8" text-anchor="middle">1500</text>
<rect x="4279.91" y="215.17" width="27.81" height="115.93" fill="#4472C4"/>
<text x="4293.82" y="360.7" font-size="16.8" text-anchor="middle">2000</text>
<rect x="4368.63" y="232.06" width="27.81" height="99.04" fill="#4472C4"/>
<text x="4382.54" y="360.7" font-size="16.8" text-anchor="middle">2500</text>
<line x1="3983.3" y1="331.1" x2="4426.9" y2="331.1" stroke="#D9D9D9" stroke-width="1.1"/>
<text x="4205.7" y="389.2" font-size="18.4" text-anchor="middle" textLength="333" lengthAdjust="spacingAndGlyphs">Number of neurons in 3rd hidden layer</text>
<text transform="translate(3931.6 218.6) rotate(-90)" x="0" y="6.53" font-size="18.4" text-anchor="middle" textLength="178" lengthAdjust="spacingAndGlyphs">Percentage Accuracy</text>
</svg>
<svg style="position:absolute;left:3995px;top:575px" width="355" height="355" viewBox="3995 575 355 355" font-family="Liberation Sans, sans-serif" fill="#1a1a1a">
<line x1="4032" y1="606" x2="4032" y2="844.6" stroke="#1a1a1a" stroke-width="1.4"/>
<polygon points="4032,600.5 4036,610 4032,607.91 4028,610" fill="#1a1a1a"/>
<line x1="4031.3" y1="844.6" x2="4327" y2="844.6" stroke="#1a1a1a" stroke-width="1.4"/>
<polygon points="4335.2,844.6 4325.2,848.6 4327.4,844.6 4325.2,840.6" fill="#1a1a1a"/>
<line x1="4045.8" y1="840.4" x2="4045.8" y2="851.5" stroke="#1a1a1a" stroke-width="1.1"/>
<line x1="4057.2" y1="840.4" x2="4057.2" y2="851.5" stroke="#1a1a1a" stroke-width="1.1"/>
<line x1="4067.4" y1="840.4" x2="4067.4" y2="851.5" stroke="#1a1a1a" stroke-width="1.1"/>
<line x1="4085.7" y1="840.4" x2="4085.7" y2="851.5" stroke="#1a1a1a" stroke-width="1.1"/>
<line x1="4106.3" y1="840.4" x2="4106.3" y2="851.5" stroke="#1a1a1a" stroke-width="1.1"/>
<line x1="4137.2" y1="840.4" x2="4137.2" y2="851.5" stroke="#1a1a1a" stroke-width="1.1"/>
<line x1="4150.1" y1="840.4" x2="4150.1" y2="851.5" stroke="#1a1a1a" stroke-width="1.1"/>
<line x1="4160.9" y1="840.4" x2="4160.9" y2="851.5" stroke="#1a1a1a" stroke-width="1.1"/>
<line x1="4168.7" y1="840.4" x2="4168.7" y2="851.5" stroke="#1a1a1a" stroke-width="1.1"/>
<line x1="4176.5" y1="840.4" x2="4176.5" y2="851.5" stroke="#1a1a1a" stroke-width="1.1"/>
<line x1="4184.9" y1="836.6" x2="4184.9" y2="855.4" stroke="#1a1a1a" stroke-width="1.1"/>
<path d="M4032 624 C4033.95 624.95 4039.95 626.95 4043.7 629.7 C4047.45 632.45 4051.15 636.85 4054.5 640.5 C4057.85 644.15 4060.8 646.85 4063.8 651.6 C4066.8 656.35 4069.8 663.1 4072.5 669 C4075.2 674.9 4077.92 682.12 4080 687 C4082.08 691.88 4083.25 693.3 4085 698.3 C4086.75 703.3 4088.83 710.65 4090.5 717 C4092.17 723.35 4093.25 730.17 4095 736.4 C4096.75 742.63 4099 749.6 4101 754.4 C4103 759.2 4103.52 759.6 4107 765.2 C4110.48 770.8 4116.77 781.5 4121.9 788 C4127.03 794.5 4133 799.95 4137.8 804.2 C4142.6 808.45 4146.75 811.1 4150.7 813.5 C4154.65 815.9 4158.35 817.3 4161.5 818.6 C4164.65 819.9 4166.9 820.55 4169.6 821.3 C4172.3 822.05 4174.5 822.55 4177.7 823.1 C4180.9 823.65 4185.1 824.45 4188.8 824.6 C4192.5 824.75 4195.05 825 4199.9 824 C4204.75 823 4211.4 822.35 4217.9 818.6 C4224.4 814.85 4231.9 809.1 4238.9 801.5 C4245.9 793.9 4254.65 780.2 4259.9 773 C4265.15 765.8 4265.63 766.82 4270.4 758.3 C4275.17 749.78 4279.37 740.28 4288.5 721.9 C4297.63 703.52 4319.08 660.32 4325.2 648" fill="none" stroke="#1a1a1a" stroke-width="1.25"/>
<path d="M4043.7 629.7 C4057.5 630.5 4067 638 4064.2 650.4" fill="none" stroke="#1a1a1a" stroke-width="1.2"/>
<path d="M4063.8 651.6 C4078 662 4087 680 4087.4 695.5" fill="none" stroke="#777" stroke-width="0.95"/>
<path d="M4085 698.3 C4098 715 4108 742 4108.8 762" fill="none" stroke="#777" stroke-width="0.95"/>
<path d="M4107 764.9 C4124 772 4135 790 4138.2 801.5" fill="none" stroke="#777" stroke-width="0.95"/>
<path d="M4137.8 804.2 Q4146.75 802.35 4151.2 811" fill="none" stroke="#333" stroke-width="0.8"/>
<polygon points="4151.1,811.9 4149.11,809.78 4150.52,809.96 4151.6,809.04" fill="#1a1a1a"/>
<path d="M4150.7 813.5 Q4158.6 809.55 4162 816.1" fill="none" stroke="#333" stroke-width="0.8"/>
<polygon points="4161.9,817 4159.91,814.88 4161.32,815.06 4162.4,814.14" fill="#1a1a1a"/>
<path d="M4161.5 818.6 Q4168.05 813.45 4170.1 818.8" fill="none" stroke="#333" stroke-width="0.8"/>
<polygon points="4170,819.7 4168.01,817.58 4169.42,817.76 4170.5,816.84" fill="#1a1a1a"/>
<path d="M4169.6 821.3 Q4176.15 815.7 4178.2 820.6" fill="none" stroke="#333" stroke-width="0.8"/>
<polygon points="4178.1,821.5 4176.11,819.38 4177.52,819.56 4178.6,818.64" fill="#1a1a1a"/>
<path d="M4177.7 823.1 Q4185.75 817.35 4189.3 822.1" fill="none" stroke="#333" stroke-width="0.8"/>
<polygon points="4189.2,823 4187.21,820.88 4188.62,821.06 4189.7,820.14" fill="#1a1a1a"/>
<polygon points="4064,651 4063.16,647.57 4064.49,648.55 4066.1,648.16" fill="#1a1a1a"/>
<polygon points="4087.4,697 4086,693.8 4087.4,694.5 4088.8,693.8" fill="#1a1a1a"/>
<polygon points="4108.9,763.6 4107.34,760.47 4108.78,761.11 4110.14,760.33" fill="#1a1a1a"/>
<polygon points="4138.6,803 4136.34,800.34 4137.88,800.61 4139.02,799.53" fill="#1a1a1a"/>
<circle cx="4043.7" cy="629.7" r="2.3" fill="#1a1a1a"/>
<circle cx="4063.8" cy="651.6" r="2.3" fill="#1a1a1a"/>
<circle cx="4085" cy="698.3" r="2.3" fill="#1a1a1a"/>
<circle cx="4106.9" cy="764.9" r="2.3" fill="#1a1a1a"/>
<circle cx="4137.8" cy="804.2" r="2.3" fill="#1a1a1a"/>
<circle cx="4150.7" cy="813.5" r="2.3" fill="#1a1a1a"/>
<circle cx="4161.5" cy="818.6" r="2.3" fill="#1a1a1a"/>
<circle cx="4169.6" cy="821.3" r="2.3" fill="#1a1a1a"/>
<circle cx="4177.7" cy="823.1" r="2.3" fill="#1a1a1a"/>
<circle cx="4188.8" cy="824.6" r="2.3" fill="#1a1a1a"/>
<line x1="4087.7" y1="595.5" x2="4050.5" y2="621.6" stroke="#1a1a1a" stroke-width="1.1"/>
<polygon points="4046.4,624.6 4051.45,617.01 4051.82,620.78 4055.25,622.4" fill="#1a1a1a"/>
<line x1="4189.5" y1="761.6" x2="4189.5" y2="814" stroke="#1a1a1a" stroke-width="1.1"/>
<polygon points="4189.5,819.8 4186.5,812.3 4189.5,813.95 4192.5,812.3" fill="#1a1a1a"/>
<line x1="4185.5" y1="895.9" x2="4185.5" y2="864" stroke="#1a1a1a" stroke-width="1.1"/>
<polygon points="4185.5,858.4 4188.5,865.9 4185.5,864.25 4182.5,865.9" fill="#1a1a1a"/>
<text x="4001.1" y="611.4" font-size="10.8" textLength="20.4" lengthAdjust="spacingAndGlyphs">f (x)</text>
<text x="4084.8" y="588.6" font-size="12.1" textLength="42.2" lengthAdjust="spacingAndGlyphs">Starting</text>
<text x="4092.2" y="603" font-size="12.1" textLength="27.3" lengthAdjust="spacingAndGlyphs">Point</text>
<text x="4097.3" y="668" font-size="12.1" textLength="54" lengthAdjust="spacingAndGlyphs">Iteration 3</text>
<text x="4114.1" y="722.9" font-size="12.1" textLength="54" lengthAdjust="spacingAndGlyphs">Iteration 4</text>
<text x="4152.8" y="758.6" font-size="12.1" textLength="72.6" lengthAdjust="spacingAndGlyphs">Convergence</text>
<text x="4174.1" y="908.5" font-size="12.1" textLength="26.4" lengthAdjust="spacingAndGlyphs">Final</text>
<text x="4172.6" y="922.9" font-size="12.1" textLength="30.3" lengthAdjust="spacingAndGlyphs">Value</text>
<text x="4334.8" y="857.5" font-size="12.5">x</text>
</svg>
</body></html>
